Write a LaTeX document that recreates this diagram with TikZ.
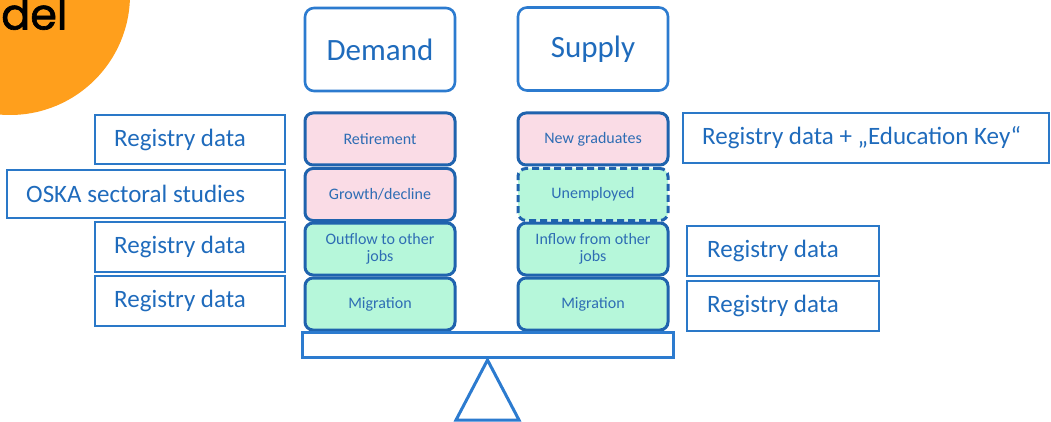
\documentclass[tikz,border=0pt]{standalone}
\usepackage{fontspec}
\setmainfont{Carlito}
\newfontfamily\titlefont[FakeBold=1.5]{Poppins}
\begin{document}
\begin{tikzpicture}[x=1pt,y=-1pt,
  hdr/.style={draw=hdrblue,line width=2.6pt,rounded corners=9pt,minimum width=150pt,minimum height=83pt,inner sep=0pt,text=txtblue,font=\fontsize{31}{33}\selectfont},
  item/.style={draw=itemblue,line width=3pt,rounded corners=8pt,minimum width=150pt,minimum height=52pt,inner sep=0pt,text=itemtxt,align=center,font=\fontsize{16}{17}\selectfont},
  pinkitem/.style={item,fill=pinkfill},
  greenitem/.style={item,fill=greenfill},
  src/.style={draw=srcblue,line width=2pt,minimum height=50pt,minimum width=#1,inner sep=0pt},
  srctext/.style={anchor=west,inner sep=0pt,text=txtblue,font=\fontsize{25}{27}\selectfont},
  balance/.style={draw=hdrblue,line width=3pt}
]
\definecolor{hdrblue}{HTML}{2C7BCF}
\definecolor{itemblue}{HTML}{1F63AE}
\definecolor{srcblue}{HTML}{2A78C8}
\definecolor{txtblue}{HTML}{1F6BBC}
\definecolor{itemtxt}{HTML}{2E6DB4}
\definecolor{pinkfill}{HTML}{FADCE6}
\definecolor{greenfill}{HTML}{B6F7DA}
\definecolor{orangeblob}{HTML}{FF9F1C}
\useasboundingbox (0,0) rectangle (1051,422);
\fill[orangeblob] (10,-5) circle[radius=120];
\node[anchor=base west,inner sep=0pt,font=\titlefont\fontsize{43}{45}\selectfont] (title) at (1,29.5) {del};

\node[hdr] (demand) at (380,49.5) {Demand};
\node[hdr] (supply) at (593,49) {Supply};

\node[pinkitem] (retire) at (380,139) {Retirement};
\node[pinkitem] (growth) at (380,194.5) {Growth/decline};
\node[greenitem] (outflow) at (380,249) {Outflow to other\\jobs};
\node[greenitem] (dmig) at (380,304) {Migration};

\node[pinkitem] (grad) at (593,139) {New graduates};
\node[greenitem,dash pattern=on 7pt off 4pt] (unemp) at (593,194.5) {Unemployed};
\node[greenitem] (inflow) at (593,249) {Inflow from other\\jobs};
\node[greenitem] (smig) at (593,304) {Migration};

\node[src=190pt,minimum height=49pt] (reg1) at (190,139.5) {};
\node[src=278pt,minimum height=48pt] (oska) at (146,194) {};
\node[src=190pt] (reg2) at (190,247) {};
\node[src=190pt] (reg3) at (190,301) {};
\node[src=366pt] (edu) at (866,138) {};
\node[src=192pt] (reg4) at (783,251) {};
\node[src=192pt] (reg5) at (783,306) {};

\node[srctext] (reg1t) at ([xshift=20pt]reg1.west) {Registry data};
\node[srctext] (oskat) at ([xshift=20pt]oska.west) {OSKA sectoral studies};
\node[srctext] (reg2t) at ([xshift=20pt]reg2.west) {Registry data};
\node[srctext] (reg3t) at ([xshift=20pt]reg3.west) {Registry data};
\node[srctext] (edut) at ([xshift=20pt]edu.west) {Registry data + „Education Key“};
\node[srctext] (reg4t) at ([xshift=21pt]reg4.west) {Registry data};
\node[srctext] (reg5t) at ([xshift=21pt]reg5.west) {Registry data};

\node[balance,minimum width=371pt,minimum height=25pt,inner sep=0pt] (beam) at (487.5,344.5) {};
\draw[balance,line join=miter] ([yshift=-1.5pt]beam.south) -- (456,420) -- (519,420) -- cycle;
\end{tikzpicture}
\end{document}
